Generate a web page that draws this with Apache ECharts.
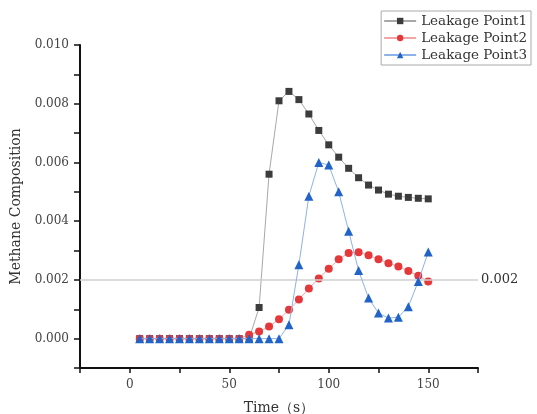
<!DOCTYPE html>
<html>
<head>
<meta charset="utf-8">
<script src="https://cdn.jsdelivr.net/npm/echarts@6/dist/echarts.min.js"></script>
<style>
  html, body { margin: 0; padding: 0; background: #fff; }
  #chart { width: 537px; height: 414px; }
</style>
</head>
<body>
<div id="chart"></div>
<script>
// time (s)
var times = [5, 10, 15, 20, 25, 30, 35, 40, 45, 50, 55, 60, 65, 70, 75,
             80, 85, 90, 95, 100, 105, 110, 115, 120, 125, 130, 135, 140, 145, 150];
// methane composition
var point1 = [0, 0, 0, 0, 0, 0, 0, 0, 0, 0, 0, 0, 0.00106, 0.0056, 0.0081,
              0.00842, 0.00814, 0.00765, 0.00709, 0.0066, 0.00618, 0.0058, 0.00548, 0.00523, 0.00506,
              0.00492, 0.00485, 0.00481, 0.00478, 0.00476];
var point2 = [0, 0, 0, 0, 0, 0, 0, 0, 0, 0, 0, 0.00013, 0.00024, 0.00041, 0.00066,
              0.00098, 0.00133, 0.00171, 0.00205, 0.00238, 0.0027, 0.00292, 0.00294, 0.00284, 0.0027,
              0.00257, 0.00246, 0.0023, 0.00214, 0.00195];
var point3 = [0, 0, 0, 0, 0, 0, 0, 0, 0, 0, 0, 0, 0, 0, 0,
              0.00047, 0.00252, 0.00485, 0.006, 0.00591, 0.005, 0.00366, 0.00232, 0.00138, 0.00087,
              0.0007, 0.00073, 0.00109, 0.00195, 0.00295];
var legendNames = ['Leakage Point1', 'Leakage Point2', 'Leakage Point3'];
var xMin = -25, xMax = 175;
var refLine = 0.002;

var FONT = 'DejaVu Serif';

function pairs (ys) {
  return times.map(function (t, i) { return [t, ys[i]] })
}

var myChart = echarts.init(document.getElementById('chart'))
var option = {
  backgroundColor: '#fff',
  textStyle: { fontFamily: FONT, color: '#333' },
  legend: {
    orient: 'vertical',
    right: 6,
    top: 11,
    data: legendNames,
    borderColor: '#aaa',
    borderWidth: 1,
    padding: [3, 4, 3, 2],
    itemGap: 3,
    itemWidth: 32,
    itemHeight: 8,
    textStyle: { fontFamily: FONT, fontSize: 13.5, color: '#333' }
  },
  grid: {
    left: 80,
    right: 59,
    top: 45,
    bottom: 46,
    containLabel: false,
    outerBoundsMode: 'none'
  },
  xAxis: {
    type: 'value',
    min: xMin,
    max: xMax,
    interval: 25,
    name: 'Time（s）',
    nameLocation: 'middle',
    nameGap: 33,
    nameTextStyle: { fontFamily: FONT, fontSize: 14, color: '#333' },
    axisLine: { onZero: false, lineStyle: { color: '#111', width: 2 } },
    axisTick: { inside: false, length: 5, lineStyle: { color: '#111', width: 1.5 } },
    axisLabel: {
      fontFamily: FONT,
      fontSize: 12,
      color: '#444',
      margin: 11,
      formatter: function (v) { return (Math.round(v) % 50 === 0) ? String(v) : '' }
    },
    splitLine: { show: false }
  },
  yAxis: {
    type: 'value',
    min: -0.001,
    max: 0.010,
    interval: 0.001,
    name: 'Methane Composition',
    nameLocation: 'middle',
    nameGap: 46,
    nameTextStyle: { fontFamily: FONT, fontSize: 14, color: '#333' },
    axisLine: { show: true, onZero: false, lineStyle: { color: '#111', width: 2 } },
    axisTick: { show: true, length: 6, lineStyle: { color: '#111', width: 1.5 } },
    axisLabel: {
      fontFamily: FONT,
      fontSize: 12,
      color: '#444',
      margin: 11,
      formatter: function (v) {
        var k = Math.round(v * 1000)
        return (k >= 0 && k % 2 === 0) ? (k / 1000).toFixed(3) : ''
      }
    },
    splitLine: { show: false }
  },
  series: [
    {
      name: legendNames[0],
      type: 'line',
      data: pairs(point1),
      symbol: 'rect',
      symbolSize: 7,
      itemStyle: { color: '#3c3c3c' },
      lineStyle: { color: '#a8a8a8', width: 1 },
      z: 3,
      markLine: {
        silent: true,
        symbol: 'none',
        data: [[{ coord: [xMin, refLine] }, { coord: [xMax, refLine] }]],
        lineStyle: { color: '#cfcfcf', width: 1.5, type: 'solid' },
        label: {
          position: 'end',
          distance: 3,
          fontFamily: FONT,
          fontSize: 13,
          color: '#333',
          formatter: function () { return refLine.toFixed(3) }
        }
      }
    },
    {
      name: legendNames[1],
      type: 'line',
      data: pairs(point2),
      symbol: 'circle',
      symbolSize: 8,
      itemStyle: { color: '#e5383b' },
      lineStyle: { color: '#f2a5a5', width: 1 },
      z: 4
    },
    {
      name: legendNames[2],
      type: 'line',
      data: pairs(point3),
      symbol: 'triangle',
      symbolSize: 9,
      itemStyle: { color: '#2263c8' },
      lineStyle: { color: '#8fb2e6', width: 1 },
      z: 5
    }
  ]
}
myChart.setOption(option)
</script>
</body>
</html>
